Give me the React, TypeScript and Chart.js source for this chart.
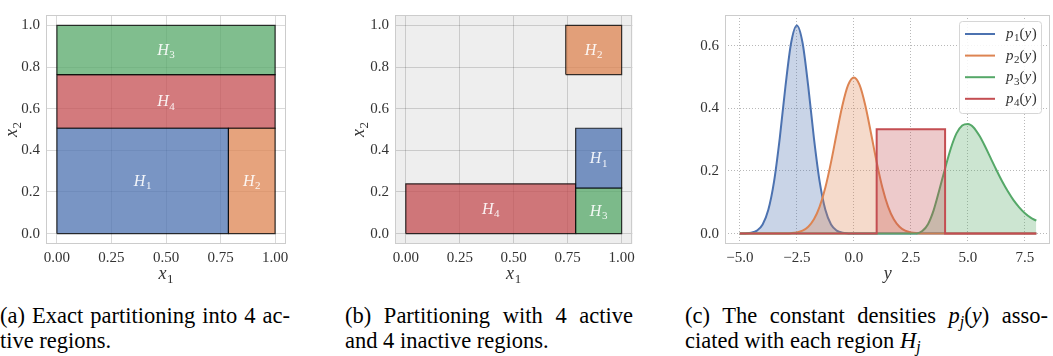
import React, { useEffect, useRef } from "react";
import { Chart, registerables } from "chart.js";
Chart.register(...registerables);

const FONT = "'Liberation Serif', serif";
const TEXT = "#333333";

const seriesColors = ["#4C72B0", "#DD8452", "#55A868", "#C44E52"];

// ---------- Panel (a): exact partitioning ----------
const regionIdsA = [1, 2, 3, 4];
const regionX0A = [0, 0.786, 0, 0];
const regionX1A = [0.786, 1, 1, 1];
const regionY0A = [0, 0, 0.764, 0.506];
const regionY1A = [0.506, 0.506, 1, 0.764];

// ---------- Panel (b): active / inactive regions ----------
const regionIdsB = [1, 2, 3, 4];
const regionX0B = [0.787, 0.741, 0.787, 0];
const regionX1B = [1, 1, 1, 0.787];
const regionY0B = [0.219, 0.764, 0, 0];
const regionY1B = [0.506, 1, 0.219, 0.239];

const unitTicksX = [0, 0.25, 0.5, 0.75, 1];
const unitTickLabelsX = ["0.00", "0.25", "0.50", "0.75", "1.00"];
const unitTicksY = [0, 0.2, 0.4, 0.6, 0.8, 1];
const unitTickLabelsY = ["0.0", "0.2", "0.4", "0.6", "0.8", "1.0"];

// ---------- Panel (c): densities ----------
const yValues = [
  -5, -4.75, -4.5, -4.25, -4, -3.75, -3.5, -3.25, -3, -2.75, -2.5, -2.25, -2, -1.75, -1.5, -1.25, -1, -0.75,
  -0.5, -0.25, 0, 0.25, 0.5, 0.75, 1, 1.25, 1.5, 1.75, 2, 2.25, 2.5, 2.75, 3, 3.25, 3.5, 3.75, 4, 4.25, 4.5,
  4.75, 5, 5.25, 5.5, 5.75, 6, 6.25, 6.5, 6.75, 7, 7.25, 7.5, 7.75, 8,
];
const density1 = [
  0.0001, 0.0006, 0.0026, 0.0095, 0.0292, 0.0759, 0.1659, 0.3044, 0.4699, 0.6097, 0.665, 0.6097, 0.4699,
  0.3044, 0.1659, 0.0759, 0.0292, 0.0095, 0.0026, 0.0006, 0.0001,
  0, 0, 0, 0, 0, 0, 0, 0, 0, 0, 0, 0, 0, 0, 0, 0, 0, 0, 0, 0, 0, 0, 0, 0, 0, 0, 0, 0, 0, 0, 0, 0,
];
const density2 = [
  0, 0, 0, 0, 0, 0, 0,
  0.0001, 0.0004, 0.0014, 0.0038, 0.0095, 0.0219, 0.0456, 0.086, 0.1471, 0.2283, 0.3214, 0.4102, 0.4749,
  0.4987, 0.4749, 0.4102, 0.3214, 0.2283, 0.1471, 0.086, 0.0456, 0.0219, 0.0095, 0.0038, 0.0014, 0.0004,
  0.0001,
  0, 0, 0, 0, 0, 0, 0, 0, 0, 0, 0, 0, 0, 0, 0, 0, 0, 0, 0,
];
const density3 = [
  0, 0, 0, 0, 0, 0, 0, 0, 0, 0, 0, 0, 0, 0, 0, 0, 0, 0, 0, 0, 0, 0, 0, 0, 0, 0, 0, 0, 0, 0, 0,
  0.0005, 0.008, 0.03, 0.075, 0.14, 0.208, 0.272, 0.32, 0.345, 0.35, 0.339, 0.313, 0.279, 0.241, 0.203,
  0.167, 0.135, 0.107, 0.084, 0.065, 0.051, 0.041,
];
const density4X = [-5, 1, 1, 4, 4, 8];
const density4Y = [0, 0, 0.3333, 0.3333, 0, 0];
const densityIds = ["1", "2", "3", "4"];
const densityTicksX = [-5, -2.5, 0, 2.5, 5, 7.5];
const densityTickLabelsX = ["\u22125.0", "\u22122.5", "0.0", "2.5", "5.0", "7.5"];
const densityTicksY = [0, 0.2, 0.4, 0.6];
const densityTickLabelsY = ["0.0", "0.2", "0.4", "0.6"];

function rgba(hex: string, a: number) {
  const r = parseInt(hex.slice(1, 3), 16);
  const g = parseInt(hex.slice(3, 5), 16);
  const b = parseInt(hex.slice(5, 7), 16);
  return `rgba(${r},${g},${b},${a})`;
}

type Seg = { t: string; it?: boolean; sub?: boolean };

function drawMath(ctx: CanvasRenderingContext2D, segs: Seg[], x: number, y: number, size: number, color: string, align: "left" | "center") {
  const font = (s: Seg) => `${s.it ? "italic " : ""}${s.sub ? Math.round(size * 0.7) : size}px ${FONT}`;
  let total = 0;
  const widths = segs.map((s) => {
    ctx.font = font(s);
    const w = ctx.measureText(s.t).width + (s.it && !s.sub ? size * 0.04 : 0);
    total += w;
    return w;
  });
  let cx = align === "center" ? x - total / 2 : x;
  ctx.save();
  ctx.fillStyle = color;
  ctx.textAlign = "left";
  ctx.textBaseline = "alphabetic";
  segs.forEach((s, i) => {
    ctx.font = font(s);
    ctx.fillText(s.t, cx, y + (s.sub ? size * 0.22 : 0));
    cx += widths[i];
  });
  ctx.restore();
}

function strokeFrame(ctx: CanvasRenderingContext2D, a: any) {
  ctx.save();
  ctx.strokeStyle = "#cccccc";
  ctx.lineWidth = 1;
  ctx.strokeRect(Math.round(a.left) + 0.5, Math.round(a.top) + 0.5, Math.round(a.right) - Math.round(a.left) - 1, Math.round(a.bottom) - Math.round(a.top) - 1);
  ctx.restore();
}

function fixedTicks(values: number[]) {
  return (axis: any) => {
    axis.ticks = values.map((v) => ({ value: v }));
  };
}

function makeRegionChart(
  canvas: HTMLCanvasElement,
  ids: number[],
  x0: number[],
  x1: number[],
  y0: number[],
  y1: number[],
  cfg: { yWidth: number; padRight: number; bg: string; yTitleX: number }
) {
  const datasets = ids.map((id, i) => ({
    label: "H" + id,
    data: [
      { x: x0[i], y: y0[i] },
      { x: x0[i], y: y1[i] },
      { x: x1[i], y: y1[i] },
      { x: x1[i], y: y0[i] },
      { x: x0[i], y: y0[i] },
    ],
    borderColor: "rgba(0,0,0,0.78)",
    borderWidth: 1.2,
    backgroundColor: rgba(seriesColors[id - 1], 0.75),
    fill: "shape",
    pointRadius: 0,
    tension: 0,
    borderJoinStyle: "miter",
  }));
  const deco = {
    id: "deco",
    beforeDraw(chart: any) {
      const { ctx, chartArea: a } = chart;
      ctx.save();
      ctx.fillStyle = cfg.bg;
      ctx.fillRect(a.left, a.top, a.right - a.left, a.bottom - a.top);
      ctx.restore();
    },
    afterDatasetsDraw(chart: any) {
      const { ctx, chartArea: a, scales } = chart;
      strokeFrame(ctx, a);
      ids.forEach((id, i) => {
        const cx = scales.x.getPixelForValue((x0[i] + x1[i]) / 2);
        const cy = scales.y.getPixelForValue((y0[i] + y1[i]) / 2);
        drawMath(ctx, [{ t: "H", it: true }, { t: String(id), sub: true }], cx, cy + 5, 16, "rgba(255,255,255,0.9)", "center");
      });
    },
    afterDraw(chart: any) {
      const { ctx, chartArea: a } = chart;
      drawMath(ctx, [{ t: "x", it: true }, { t: "1", sub: true }], (a.left + a.right) / 2, a.bottom + 35, 18, TEXT, "center");
      ctx.save();
      ctx.translate(cfg.yTitleX, (a.top + a.bottom) / 2);
      ctx.rotate(-Math.PI / 2);
      drawMath(ctx, [{ t: "x", it: true }, { t: "2", sub: true }], 0, 0, 18, TEXT, "center");
      ctx.restore();
    },
  };
  return new Chart(canvas, {
    type: "line",
    data: { datasets: datasets as any },
    options: {
      animation: false,
      responsive: false,
      events: [],
      layout: { padding: { left: 0, right: cfg.padRight, top: 4, bottom: 0 } },
      plugins: { legend: { display: false }, tooltip: { enabled: false } },
      scales: {
        x: {
          type: "linear",
          min: -0.05,
          max: 1.05,
          afterBuildTicks: fixedTicks(unitTicksX),
          afterFit: (s: any) => {
            s.height = 46;
          },
          ticks: {
            callback: (_v: any, i: number) => unitTickLabelsX[i],
            font: { family: FONT, size: 15 },
            color: TEXT,
            padding: 5,
            autoSkip: false,
            maxRotation: 0,
          },
          grid: { color: "rgba(0,0,0,0.15)", lineWidth: 1, drawTicks: false },
          border: { display: false },
        },
        y: {
          type: "linear",
          min: -0.05,
          max: 1.05,
          afterBuildTicks: fixedTicks(unitTicksY),
          afterFit: (s: any) => {
            s.width = cfg.yWidth;
          },
          ticks: {
            callback: (_v: any, i: number) => unitTickLabelsY[i],
            font: { family: FONT, size: 15 },
            color: TEXT,
            padding: 6,
            autoSkip: false,
          },
          grid: { color: "rgba(0,0,0,0.15)", lineWidth: 1, drawTicks: false },
          border: { display: false },
        },
      },
    } as any,
    plugins: [deco],
  });
}

function makeDensityChart(canvas: HTMLCanvasElement) {
  const curves = [density1, density2, density3];
  const datasets: any[] = curves.map((vals, k) => ({
    label: "p" + densityIds[k],
    data: yValues.map((x, i) => ({ x, y: vals[i] })),
    borderColor: seriesColors[k],
    backgroundColor: rgba(seriesColors[k], 0.3),
    fill: "origin",
    borderWidth: 2,
    pointRadius: 0,
    cubicInterpolationMode: "monotone",
    order: 4 - k,
  }));
  datasets.push({
    label: "p" + densityIds[3],
    data: density4X.map((x, i) => ({ x, y: density4Y[i] })),
    borderColor: seriesColors[3],
    backgroundColor: rgba(seriesColors[3], 0.3),
    fill: "origin",
    borderWidth: 2,
    pointRadius: 0,
    tension: 0,
    borderJoinStyle: "miter",
    order: 1,
  });
  const deco = {
    id: "decoC",
    beforeDraw(chart: any) {
      const { ctx, chartArea: a } = chart;
      ctx.save();
      ctx.fillStyle = "#ffffff";
      ctx.fillRect(a.left, a.top, a.right - a.left, a.bottom - a.top);
      ctx.restore();
    },
    afterDatasetsDraw(chart: any) {
      const { ctx, chartArea: a } = chart;
      strokeFrame(ctx, a);
      const bx = a.right - 91;
      const by = a.top + 6;
      const bw = 82;
      const bh = 92;
      ctx.save();
      ctx.beginPath();
      (ctx as any).roundRect(bx + 0.5, by + 0.5, bw, bh, 3);
      ctx.fillStyle = "rgba(255,255,255,0.85)";
      ctx.fill();
      ctx.strokeStyle = "#d6d6d6";
      ctx.lineWidth = 1;
      ctx.stroke();
      ctx.restore();
      densityIds.forEach((id, k) => {
        const ry = by + 13 + k * 21.6;
        ctx.save();
        ctx.strokeStyle = seriesColors[k];
        ctx.lineWidth = 2;
        ctx.beginPath();
        ctx.moveTo(bx + 6, ry);
        ctx.lineTo(bx + 36, ry);
        ctx.stroke();
        ctx.restore();
        drawMath(
          ctx,
          [{ t: "p", it: true }, { t: id, sub: true }, { t: "(" }, { t: "y", it: true }, { t: ")" }],
          bx + 47,
          ry + 4,
          15,
          TEXT,
          "left"
        );
      });
    },
    afterDraw(chart: any) {
      const { ctx, chartArea: a } = chart;
      drawMath(ctx, [{ t: "y", it: true }], (a.left + a.right) / 2 + 0.5, a.bottom + 35, 18, TEXT, "center");
    },
  };
  return new Chart(canvas, {
    type: "line",
    data: { datasets },
    options: {
      animation: false,
      responsive: false,
      events: [],
      layout: { padding: { left: 0, right: 2, top: 3, bottom: 0 } },
      plugins: { legend: { display: false }, tooltip: { enabled: false } },
      scales: {
        x: {
          type: "linear",
          min: -5.65,
          max: 8.6,
          afterBuildTicks: fixedTicks(densityTicksX),
          afterFit: (s: any) => {
            s.height = 46;
          },
          ticks: {
            callback: (_v: any, i: number) => densityTickLabelsX[i],
            font: { family: FONT, size: 15 },
            color: TEXT,
            padding: 5,
            autoSkip: false,
            maxRotation: 0,
          },
          grid: { color: "rgba(0,0,0,0.28)", lineWidth: 1, drawTicks: false },
          border: { display: false, dash: [1, 2] },
        },
        y: {
          type: "linear",
          min: -0.0333,
          max: 0.6983,
          afterBuildTicks: fixedTicks(densityTicksY),
          afterFit: (s: any) => {
            s.width = 45;
          },
          ticks: {
            callback: (_v: any, i: number) => densityTickLabelsY[i],
            font: { family: FONT, size: 15 },
            color: TEXT,
            padding: 6,
            autoSkip: false,
          },
          grid: { color: "rgba(0,0,0,0.28)", lineWidth: 1, drawTicks: false },
          border: { display: false, dash: [1, 2] },
        },
      },
    } as any,
    plugins: [deco],
  });
}

const captionBase: React.CSSProperties = {
  position: "absolute",
  fontFamily: FONT,
  fontSize: "22.5px",
  lineHeight: "25px",
  color: "#000",
};

const justified: React.CSSProperties = { textAlign: "justify", textAlignLast: "justify" as any };

const subStyle: React.CSSProperties = { fontSize: "0.7em", verticalAlign: "-0.28em", lineHeight: 0, fontStyle: "italic" };

export default function App() {
  const refA = useRef<HTMLCanvasElement>(null);
  const refB = useRef<HTMLCanvasElement>(null);
  const refC = useRef<HTMLCanvasElement>(null);

  useEffect(() => {
    const a = makeRegionChart(refA.current!, regionIdsA, regionX0A, regionX1A, regionY0A, regionY1A, {
      yWidth: 46,
      padRight: 14,
      bg: "#ffffff",
      yTitleX: 17,
    });
    const b = makeRegionChart(refB.current!, regionIdsB, regionX0B, regionX1B, regionY0B, regionY1B, {
      yWidth: 55,
      padRight: 5,
      bg: "#eeeeee",
      yTitleX: 24,
    });
    const c = makeDensityChart(refC.current!);
    return () => {
      a.destroy();
      b.destroy();
      c.destroy();
    };
  }, []);

  return (
    <div style={{ position: "absolute", left: 0, top: 0, width: 1053, height: 356, background: "#fff", overflow: "hidden" }}>
      <canvas ref={refA} width={300} height={290} style={{ position: "absolute", left: 0, top: 0, width: 300, height: 290 }} />
      <canvas ref={refB} width={300} height={290} style={{ position: "absolute", left: 340, top: 0, width: 300, height: 290 }} />
      <canvas ref={refC} width={372} height={290} style={{ position: "absolute", left: 680, top: 0, width: 372, height: 290 }} />

      <div style={{ ...captionBase, ...justified, left: 0, top: 303, width: 290 }}>(a) Exact partitioning into 4 ac-</div>
      <div style={{ ...captionBase, left: 0, top: 328, whiteSpace: "nowrap" }}>tive regions.</div>

      <div style={{ ...captionBase, ...justified, left: 345, top: 303, width: 288 }}>(b) Partitioning with 4 active</div>
      <div style={{ ...captionBase, left: 345, top: 328, whiteSpace: "nowrap" }}>and 4 inactive regions.</div>

      <div style={{ ...captionBase, ...justified, left: 685, top: 303, width: 363 }}>
        (c) The constant densities <i>p</i>
        <sub style={subStyle}>j</sub>(<i>y</i>) asso-
      </div>
      <div style={{ ...captionBase, left: 685, top: 328, whiteSpace: "nowrap" }}>
        ciated with each region <i>H</i>
        <sub style={subStyle}>j</sub>
      </div>
    </div>
  );
}
